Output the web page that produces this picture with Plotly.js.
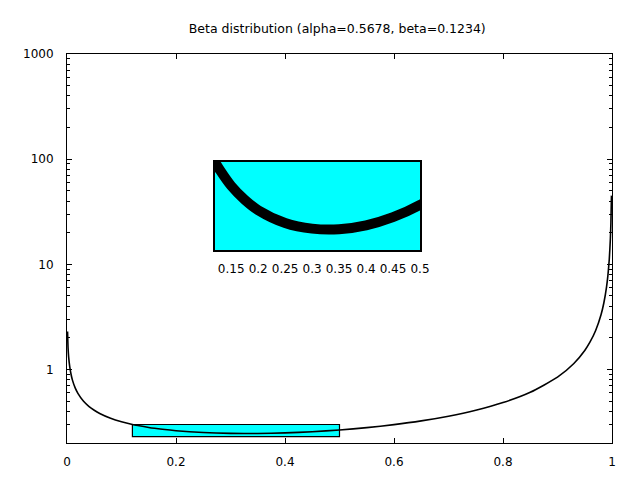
<!DOCTYPE html>
<html>
<head>
<meta charset="utf-8">
<script src="https://cdn.plot.ly/plotly-3.0.1.min.js"></script>
<style>html,body{margin:0;padding:0;background:#fff;}#plot{width:640px;height:480px;}</style>
</head>
<body>
<div id="plot"></div>
<script>
// Density values
var xs = [0.001, 0.002, 0.003, 0.005, 0.0075, 0.01, 0.015, 0.02, 0.03, 0.04, 0.05, 0.06, 0.08, 0.10,
          0.12, 0.13, 0.15, 0.175, 0.2, 0.25, 0.3, 0.35, 0.4, 0.45, 0.5, 0.55, 0.6, 0.65, 0.7, 0.75,
          0.8, 0.85, 0.9, 0.93, 0.95, 0.96, 0.97, 0.98, 0.985, 0.99, 0.9925, 0.995, 0.997, 0.998, 0.999];
var density = [2.3, 1.58, 1.32, 1.064, 0.896, 0.792, 0.668, 0.593, 0.502, 0.447, 0.410, 0.382, 0.344, 0.3185,
          0.300, 0.293, 0.281, 0.270, 0.2617, 0.2515, 0.2470, 0.2465, 0.2496, 0.2561, 0.2659, 0.2799, 0.2989, 0.3246, 0.3599, 0.4097,
          0.4844, 0.6074, 0.8455, 1.140, 1.517, 1.837, 2.352, 3.34, 4.29, 6.11, 7.85, 11.19, 17.5, 24.9, 45];
var yTickVals = [1, 10, 100, 1000];
var yTickText = ['1', '10', '100', '1000'];
var yMinorVals = [0.2, 0.3, 0.4, 0.5, 0.6, 0.7, 0.8, 0.9,
                  2, 3, 4, 5, 6, 7, 8, 9,
                  20, 30, 40, 50, 60, 70, 80, 90,
                  200, 300, 400, 500, 600, 700, 800, 900];
var xTickVals = [0, 0.2, 0.4, 0.6, 0.8, 1];
var xTickText = ['0', '0.2', '0.4', '0.6', '0.8', '1'];
var insetTickVals = [0.15, 0.2, 0.25, 0.3, 0.35, 0.4, 0.45, 0.5];
var insetTickText = ['0.15', '0.2', '0.25', '0.3', '0.35', '0.4', '0.45', '0.5'];
var zoomX = [0.12, 0.5];
var zoomY = [0.23, 0.3];

var font = {family: 'DejaVu Sans, Liberation Sans, sans-serif', size: 12, color: '#000'};
var yRange = [Math.log10(0.2), 3];

var traces = [
  {x: xs, y: density, type: 'scatter', mode: 'lines', xaxis: 'x', yaxis: 'y',
   line: {color: '#000', width: 1.6, shape: 'spline', smoothing: 0.6}, hoverinfo: 'skip'},
  // inset background (zoom window)
  {x: [zoomX[0], zoomX[1], zoomX[1], zoomX[0], zoomX[0]], y: [zoomY[0], zoomY[0], zoomY[1], zoomY[1], zoomY[0]],
   type: 'scatter', mode: 'lines', xaxis: 'x2', yaxis: 'y2', fill: 'toself', fillcolor: '#00ffff',
   line: {width: 0, color: '#00ffff'}, hoverinfo: 'skip'},
  {x: xs, y: density, type: 'scatter', mode: 'lines', xaxis: 'x2', yaxis: 'y2',
   line: {color: '#000', width: 10, shape: 'spline', smoothing: 0.8}, hoverinfo: 'skip'},
  {x: [null], y: [null], type: 'scatter', mode: 'lines', xaxis: 'x', yaxis: 'y3', hoverinfo: 'skip'}
];

var layout = {
  width: 640, height: 480,
  margin: {l: 67, r: 28, t: 54, b: 37},
  paper_bgcolor: '#fff', plot_bgcolor: 'rgba(0,0,0,0)',
  showlegend: false,
  font: font,
  title: {text: 'Beta distribution (alpha=0.5678, beta=0.1234)', font: {family: font.family, size: 12.5, color: '#000'},
          x: 0.527, xanchor: 'center', y: 0.94, yanchor: 'middle'},
  xaxis: {range: [0, 1], tickvals: xTickVals, ticktext: xTickText, ticks: 'inside', ticklen: 5, tickcolor: '#000',
          showline: true, linecolor: '#000', linewidth: 1, mirror: 'ticks', showgrid: false, zeroline: false,
          ticklabelstandoff: 8, tickfont: font},
  yaxis: {type: 'log', range: yRange, tickvals: yTickVals, ticktext: yTickText, ticks: 'inside', ticklen: 5,
          tickcolor: '#000', showline: true, linecolor: '#000', linewidth: 1, mirror: 'ticks', showgrid: false,
          zeroline: false, ticklabelstandoff: 10, tickfont: font},
  yaxis3: {type: 'log', range: yRange, overlaying: 'y', anchor: 'x', side: 'left', tickvals: yMinorVals,
           showticklabels: false, ticks: 'inside', ticklen: 3, tickcolor: '#000', showline: true, linecolor: '#000',
           linewidth: 1, mirror: 'ticks', showgrid: false, zeroline: false},
  xaxis2: {domain: [0.2716, 0.6477], anchor: 'y2', range: zoomX, tickvals: insetTickVals, ticktext: insetTickText,
           ticks: '', showline: true, linecolor: '#000', linewidth: 1.6, mirror: true, showgrid: false, zeroline: false,
           ticklabelstandoff: 7, tickfont: font},
  yaxis2: {domain: [0.4961, 0.7224], anchor: 'x2', range: zoomY, showticklabels: false, ticks: '',
           showline: true, linecolor: '#000', linewidth: 1.6, mirror: true, showgrid: false, zeroline: false},
  shapes: [
    {type: 'rect', xref: 'x', yref: 'y', x0: zoomX[0], x1: zoomX[1], y0: zoomY[0], y1: zoomY[1],
     fillcolor: '#00ffff', line: {color: '#000', width: 1.2}, layer: 'below'}
  ]
};

Plotly.newPlot('plot', traces, layout, {displayModeBar: false, staticPlot: true});
</script>
</body>
</html>
